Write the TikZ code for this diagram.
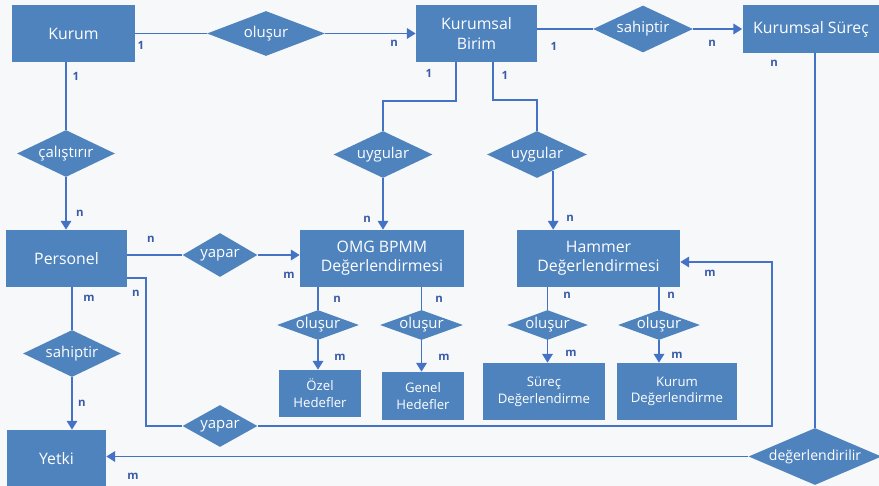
\documentclass[tikz,border=0pt]{standalone}
\usepackage{fontspec}
\setmainfont{Open Sans}
\usepackage{xcolor}
\usepackage{tikz}
\usetikzlibrary{shapes.geometric, arrows.meta, calc}
\definecolor{boxblue}{HTML}{4F83BD}
\definecolor{lineblue}{HTML}{4472C4}
\definecolor{cardblue}{HTML}{3A5BA8}
\definecolor{paper}{HTML}{F7F8F9}
\tikzstyle{entity} = [rectangle, fill=boxblue, text=white, align=center, inner sep=0pt, font=\fontsize{9}{11}\selectfont]
\tikzstyle{smallentity} = [entity, font=\fontsize{7.5}{9.5}\selectfont]
\tikzstyle{relation} = [diamond, fill=boxblue, text=white, inner sep=-5mm, font=\fontsize{8.5}{10}\selectfont]
\tikzstyle{link} = [draw=lineblue, line width=0.9pt]
\tikzstyle{arrow} = [link, -{Triangle[width=6pt,length=5pt]}]
\tikzstyle{card} = [text=cardblue, inner sep=0pt, font=\bfseries\fontsize{6.5}{7}\selectfont]

\begin{document}
\begin{tikzpicture}[x=0.02cm, y=-0.02cm]

\fill[paper] (0,0) rectangle (879,486);
\useasboundingbox (0,0) rectangle (879,486);

% entities
\node[entity, minimum width=2.46cm, minimum height=1.14cm] (kurum) at (73.5,33.5) {Kurum};
\node[entity, minimum width=2.42cm, minimum height=1.14cm] (birim) at (476.5,33.5) {Kurumsal\\Birim};
\node[entity, minimum width=2.74cm, minimum height=0.96cm] (surec) at (811,29) {Kurumsal Süreç};
\node[entity, minimum width=2.42cm, minimum height=1.14cm] (personel) at (66.5,258.5) {Personel};
\node[entity, minimum width=1.98cm, minimum height=1.16cm] (yetki) at (56.5,459) {Yetki};
\node[entity, minimum width=3.28cm, minimum height=1.14cm] (omg) at (382,258.5) {OMG BPMM\\Değerlendirmesi};
\node[entity, minimum width=3.26cm, minimum height=1.14cm] (hammer) at (598.5,258.5) {Hammer\\Değerlendirmesi};
\node[smallentity, minimum width=1.64cm, minimum height=0.94cm] (ozel) at (320,393.5) {Özel\\Hedefler};
\node[smallentity, minimum width=1.64cm, minimum height=0.96cm] (genel) at (423,396) {Genel\\Hedefler};
\node[smallentity, minimum width=2.44cm, minimum height=1.14cm] (surecdeg) at (544,391.5) {Süreç\\Değerlendirme};
\node[smallentity, minimum width=2.40cm, minimum height=1.14cm] (kurumdeg) at (677,391.5) {Kurum\\Değerlendirme};

% relations
\node[relation, minimum width=2.36cm, minimum height=0.9cm] (olusur) at (266,33.5) {oluşur};
\node[relation, minimum width=2.0cm, minimum height=0.94cm] (sahiptirS) at (643,29) {sahiptir};
\node[relation, minimum width=1.96cm, minimum height=0.94cm] (calistirir) at (66,153.5) {çalıştırır};
\node[relation, minimum width=1.5cm, minimum height=0.88cm] (yaparO) at (220,255) {yapar};
\node[relation, minimum width=1.98cm, minimum height=0.94cm] (uygularO) at (383,154.5) {uygular};
\node[relation, minimum width=2.0cm, minimum height=0.94cm] (uygularH) at (537,154.5) {uygular};
\node[relation, minimum width=1.64cm, minimum height=0.6cm] (olusurOz) at (318,325) {oluşur};
\node[relation, minimum width=1.66cm, minimum height=0.6cm] (olusurGe) at (421.5,325) {oluşur};
\node[relation, minimum width=1.62cm, minimum height=0.6cm] (olusurSu) at (547.5,325) {oluşur};
\node[relation, minimum width=1.64cm, minimum height=0.6cm] (olusurKu) at (659,325) {oluşur};
\node[relation, minimum width=1.96cm, minimum height=0.94cm] (sahiptirY) at (72,353.5) {sahiptir};
\node[relation, minimum width=1.5cm, minimum height=0.84cm] (yaparH) at (220,426) {yapar};
\node[relation, minimum width=2.66cm, minimum height=1.14cm, font=\fontsize{8}{10}\selectfont] (degerlendirilir) at (815,456.5) {değerlendirilir};

% connectors
\draw[link] (kurum.east |- olusur.west) -- (olusur.west);
\draw[arrow] (olusur.east) -- (birim.west |- olusur.east);
\draw[link] (birim.east |- sahiptirS.west) -- (sahiptirS.west);
\draw[arrow] (sahiptirS.east) -- (surec.west |- sahiptirS.east);
\draw[link] (calistirir.north |- kurum.south) -- (calistirir.north);
\draw[arrow] (calistirir.south) -- (personel.north -| calistirir.south);
\draw[link] (personel.east |- yaparO.west) -- (yaparO.west);
\draw[arrow] (yaparO.east) -- (omg.west |- yaparO.east);
\draw[link] (birim.south -| 456,0) -- (456,101) -- (uygularO.north |- 0,101) -- (uygularO.north);
\draw[link] (birim.south -| 493,0) -- (493,100) -- (uygularH.north |- 0,100) -- (uygularH.north);
\draw[arrow] (uygularO.south) -- (omg.north -| uygularO.south);
\draw[arrow] (uygularH.-45) -- (hammer.north -| uygularH.-45);
\draw[link] (olusurOz.north |- omg.south) -- (olusurOz.north);
\draw[arrow] (olusurOz.south) -- (ozel.north -| olusurOz.south);
\draw[link] (olusurGe.north |- omg.south) -- (olusurGe.north);
\draw[arrow] (olusurGe.south) -- (genel.north -| olusurGe.south);
\draw[link] (olusurSu.north |- hammer.south) -- (olusurSu.north);
\draw[arrow] (olusurSu.south) -- (surecdeg.north -| olusurSu.south);
\draw[link] (olusurKu.north |- hammer.south) -- (olusurKu.north);
\draw[arrow] (olusurKu.south) -- (kurumdeg.north -| olusurKu.south);
\draw[link] (sahiptirY.north |- personel.south) -- (sahiptirY.north);
\draw[arrow] (sahiptirY.south) -- (yetki.north -| sahiptirY.south);
\draw[link] (personel.east |- 0,278) -| (yaparH.west -| 146,0) -- (yaparH.west);
\draw[arrow] (yaparH.east) -| (772,262) -- (hammer.east |- 0,262);
\draw[link] (degerlendirilir.north |- surec.south) -- (degerlendirilir.north);
\draw[arrow] (degerlendirilir.west) -- (yetki.east |- degerlendirilir.west);

% cardinalities
\node[card] (c1) at (141,45) {1};
\node[card] (c2) at (394,43) {n};
\node[card] (c3) at (76,76) {1};
\node[card] (c4) at (429,73) {1};
\node[card] (c5) at (505,75) {1};
\node[card] (c6) at (554,46) {1};
\node[card] (c7) at (712,43) {n};
\node[card] (c8) at (774,63) {n};
\node[card] (c9) at (80,213) {n};
\node[card] (c10) at (151,239) {n};
\node[card] (c11) at (289,275) {m};
\node[card] (c12) at (89,298) {m};
\node[card] (c13) at (136,293) {n};
\node[card] (c14) at (367,219) {n};
\node[card] (c15) at (570,218) {n};
\node[card] (c16) at (337,299) {n};
\node[card] (c17) at (439,299) {n};
\node[card] (c18) at (340,357) {m};
\node[card] (c19) at (444,357) {m};
\node[card] (c20) at (567,295) {n};
\node[card] (c21) at (671,295) {n};
\node[card] (c22) at (571,353) {m};
\node[card] (c23) at (677,355) {m};
\node[card] (c24) at (710,273) {m};
\node[card] (c25) at (82,403) {n};
\node[card] (c26) at (133,476) {m};
\end{tikzpicture}
\end{document}
